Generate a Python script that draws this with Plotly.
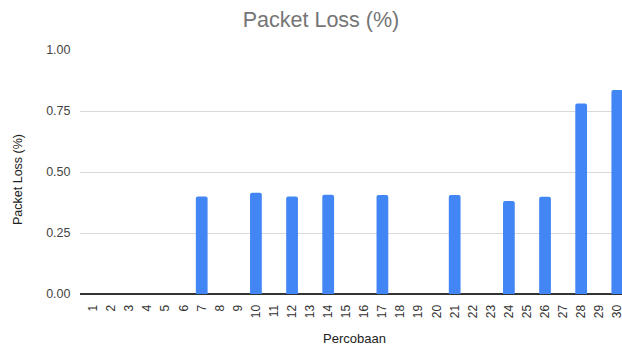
import plotly.graph_objects as go

categories = [str(i) for i in range(1, 31)]
packet_loss = [0, 0, 0, 0, 0, 0, 0.40, 0, 0, 0.415, 0, 0.40, 0, 0.407, 0, 0,
               0.406, 0, 0, 0, 0.406, 0, 0, 0.381, 0, 0.399, 0, 0.781, 0, 0.836]
y_ticks = [0, 0.25, 0.5, 0.75, 1.0]
y_tick_labels = ["0.00", "0.25", "0.50", "0.75", "1.00"]

font_family = "Liberation Sans, Arial, sans-serif"

W, H = 622, 347
L, T, B = 80, 50, 53
PW, PH = W - L, H - T - B

fig = go.Figure(go.Bar(
    x=categories, y=packet_loss,
    marker=dict(color="#4285F4", cornerradius=2, line=dict(width=0)),
    hoverinfo="x+y",
))

fig.update_layout(
    width=W, height=H,
    margin=dict(l=L, r=0, t=T, b=B, autoexpand=False),
    paper_bgcolor="white", plot_bgcolor="white",
    bargap=0.35,
    showlegend=False,
    font=dict(family=font_family, size=12, color="#444444"),
    title=dict(text="Packet Loss (%)", x=321 / W, xanchor="center",
               y=1 - 19 / H, yanchor="middle",
               font=dict(family=font_family, size=21.5, color="#757575")),
    xaxis=dict(type="category", range=[-0.736, 29.26],
               tickangle=-90, showgrid=False, showline=False, zeroline=False,
               ticks="outside", ticklen=5, tickcolor="rgba(0,0,0,0)",
               tickfont=dict(size=12, color="#333333")),
    yaxis=dict(range=[0, 1.0], tickvals=y_ticks, ticktext=y_tick_labels,
               showgrid=True, gridcolor="#d9d9d9", gridwidth=1,
               zeroline=True, zerolinecolor="#333333", zerolinewidth=1.5,
               showline=False,
               ticks="outside", ticklen=6, tickcolor="rgba(0,0,0,0)",
               tickfont=dict(size=12.5, color="#444444")),
    annotations=[
        dict(text="Packet Loss (%)", xref="paper", yref="paper",
             x=-62 / PW, y=(294 - 180) / PH, textangle=-90,
             showarrow=False, xanchor="center", yanchor="middle",
             font=dict(family=font_family, size=12.5, color="#222222")),
        dict(text="Percobaan", xref="paper", yref="paper",
             x=(354.5 - 80) / PW, y=-(338 - 294) / PH,
             showarrow=False, xanchor="center", yanchor="middle",
             font=dict(family=font_family, size=13, color="#222222")),
    ],
)

fig.write_html(
    "out.html",
    config={"displayModeBar": False},
    post_script="document.body.style.margin='0';document.body.style.overflow='hidden';",
)
